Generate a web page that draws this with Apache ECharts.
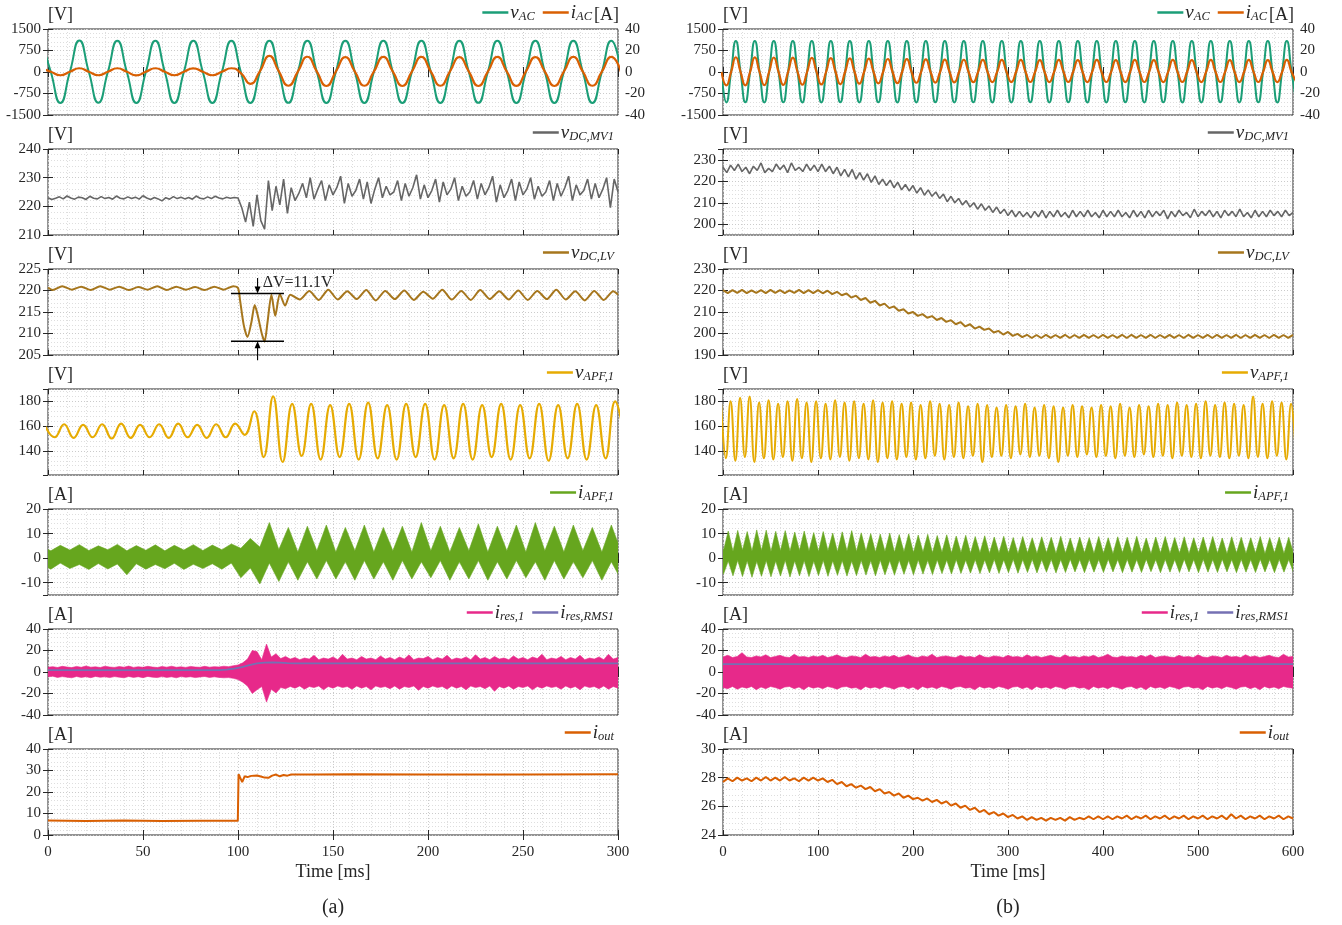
<!DOCTYPE html>
<html><head><meta charset="utf-8">
<script src="https://cdn.jsdelivr.net/npm/echarts@6/dist/echarts.min.js"></script>
<style>html,body{margin:0;padding:0;background:#fff}#c{width:1342px;height:925px}</style>
</head><body><div id="c"></div>
<script>
// ======================= DATA =======================
// ---------- (a) 0–300 ms ----------
// v_AC, i_AC sampled every 5 ms starting at -3.5 ms (peaks / zero crossings / troughs)
const vAC_a_t0 = -3.5, vAC_a_dt = 5;
const vAC_a = [
 1090,0,-1080,0, 1095,0,-1075,0, 1090,0,-1082,0, 1088,0,-1080,0, 1092,0,-1078,0,
 1090,0,-1080,0, 1094,0,-1076,0, 1090,0,-1082,0, 1088,0,-1080,0, 1092,0,-1078,0,
 1090,0,-1080,0, 1094,0,-1076,0, 1090,0,-1082,0, 1088,0,-1080,0, 1092,0,-1078,0,
 1090,0];
const iAC_a = [
 3.4,0.2,-3.0,0.2, 3.5,0.2,-3.0,0.2, 3.5,0.2,-3.1,0.2, 3.5,0.2,-3.0,0.2, 3.4,0.2,-3.0,0.2,
 3.5,-1.0,-11.0,0.5, 15.0,0.5,-12.8,0.3, 14.2,0.3,-13.0,0.3, 13.8,0.3,-12.8,0.3, 14.0,0.3,-13.0,0.3,
 14.0,0.3,-12.8,0.3, 13.8,0.3,-13.0,0.3, 14.0,0.3,-12.9,0.3, 13.9,0.3,-13.0,0.3, 14.0,0.3,-12.8,0.3,
 14.0,0.3];
// v_DC,MV1 every 2 ms from 0
const vDCMV1_a_dt = 2;
const vDCMV1_a = [
 223.0,222.4,222.8,223.3,222.6,223.6,222.9,222.5,223.2,223.0,
 222.4,223.5,222.8,222.6,223.4,222.7,223.1,222.5,223.6,222.8,
 222.6,223.3,222.7,223.2,222.5,223.7,222.9,222.4,223.1,222.6,
 221.9,223.0,222.5,223.4,222.7,223.2,222.6,223.1,222.5,223.6,
 222.8,222.6,223.3,222.7,223.5,222.9,222.6,223.2,222.8,223.1,
 222.9,219.5,214.5,221.5,213.0,224.0,215.0,212.0,229.0,218.5,
 227.0,220.5,229.5,217.5,226.5,222.0,224.5,228.0,223.0,230.0,
 222.5,226.0,229.0,222.0,227.5,224.0,226.5,230.5,221.0,228.0,
 223.5,225.5,229.5,222.5,228.5,221.0,226.0,230.0,223.0,227.0,
 224.0,225.0,229.0,222.0,228.0,223.5,226.5,231.0,222.5,227.5,
 223.0,225.5,229.5,221.5,228.5,224.0,226.0,230.0,222.0,227.0,
 223.5,225.0,229.0,222.5,228.0,224.0,226.5,230.5,221.5,227.5,
 223.0,225.5,229.5,222.0,228.5,224.0,226.0,230.0,222.5,227.0,
 223.5,225.0,229.0,222.0,228.0,223.5,226.5,230.5,222.0,227.5,
 224.0,225.5,229.5,222.5,228.0,223.0,226.0,230.0,219.5,229.5,
 225.0];
// v_DC,LV as [time ms, volts]
const vDCLV_a = [
 [0,220.7],[2.5,220.1],[7.5,221.0],[12.5,220.2],[17.5,220.9],[22.5,220.1],[27.5,221.0],[32.5,220.2],[37.5,220.9],[42.5,220.1],
 [47.5,220.8],[52.5,220.2],[57.5,221.0],[62.5,220.1],[67.5,220.9],[72.5,220.2],[77.5,220.8],[82.5,220.1],[87.5,220.9],[92.5,220.2],
 [97.5,221.0],[100,220.6],[101,218.0],[103,212.0],[105,209.2],[107,212.5],[108.8,216.6],[110.5,214.0],[112.5,210.0],[114,208.1],
 [115.5,212.5],[117.6,219.0],[119.6,214.1],[122,219.2],[124.8,216.5],[127.5,219.0],[132.5,217.9],[137.5,219.9],[142.5,217.8],[147.5,220.2],
 [152.5,217.9],[157.5,219.8],[162.5,218.0],[167.5,220.1],[172.5,217.7],[177.5,219.9],[182.5,218.0],[187.5,220.0],[192.5,217.8],[197.5,219.7],
 [202.5,218.1],[207.5,220.2],[212.5,217.9],[217.5,219.9],[222.5,217.8],[227.5,220.1],[232.5,218.0],[237.5,219.8],[242.5,217.9],[247.5,220.0],
 [252.5,217.8],[257.5,219.9],[262.5,218.0],[267.5,220.2],[272.5,217.9],[277.5,219.8],[282.5,217.7],[287.5,219.9],[292.5,217.8],[297.5,219.8],
 [300,219.0]];
// annotation on v_DC,LV
const dV_label = 'ΔV=11.1V';
const dV_levels = [219.3, 208.2];      // upper / lower marker lines [V]
const dV_span = [96.3, 124.2];         // marker line extent [ms]
const dV_arrowT = 110.3;               // arrow time [ms]
const dV_arrowEnds = [222.9, 203.8];   // arrow tails [V]
const dV_textAt = [113, 221.7];
// v_APF,1 peaks/troughs every 5 ms from -1.5 ms
const vAPF_a_t0 = -1.5, vAPF_a_dt = 5;
const vAPF_a = [
 160,151,161.5,150.5,161,151,161.5,150,162,150.5,
 161,151,161.5,150.5,162,151,161,150.5,161.5,151,
 162,153,172,135,184,131,178,136,178,133,
 177,135,178,133,179,134,177,133,178,135,
 178,133,177,134,178,133,177,135,178,133,
 177,134,178,132,177,134,178,133,177,134,
 180,150];
// i_APF,1 band (upper / lower envelope), every 5 ms from -3.5 ms
const iAPF_a_t0 = -3.5, iAPF_a_dt = 5;
const iAPF_a_hi = [
 4.8,3.0,5.2,3.3,5.5,3.1,5.0,3.4,5.6,3.0,
 5.1,3.2,5.4,3.0,5.2,3.3,5.5,3.1,5.3,3.4,
 5.8,4.0,8.0,4.5,14.5,3.5,12.5,2.5,13.0,3.0,
 13.5,2.5,12.5,3.0,13.5,2.5,12.5,3.0,13.0,2.5,
 14.5,3.0,13.0,2.5,12.5,3.0,14.0,2.5,13.0,3.0,
 13.5,2.5,14.5,3.0,13.0,2.5,13.5,3.0,12.5,2.5,
 13.5,3.0];
const iAPF_a_lo = [
 -2.5,-4.5,-2.0,-4.2,-2.6,-4.6,-2.2,-4.4,-2.4,-6.8,
 -2.3,-4.5,-2.6,-4.3,-2.1,-4.6,-2.5,-4.2,-2.3,-4.5,
 -2.0,-8.0,-4.0,-10.5,-2.0,-9.5,-1.5,-9.0,-1.5,-8.5,
 -1.0,-8.5,-1.5,-9.0,-1.0,-8.5,-1.5,-9.0,-1.0,-8.5,
 -1.5,-8.0,-1.0,-9.0,-1.5,-8.5,-1.0,-9.0,-1.5,-8.5,
 -1.0,-8.0,-1.5,-9.0,-1.0,-8.5,-1.5,-8.0,-1.0,-9.0,
 -1.5,-8.5];
// i_res,1 band every 2.5 ms from 0
const ires_a_dt = 2.5;
const ires_a_hi = [
 4.5,5.0,4.2,5.3,4.6,4.1,5.2,4.4,5.6,4.5,
 4.8,4.2,5.4,4.6,4.3,5.1,4.5,5.5,4.3,4.9,
 4.4,5.3,4.6,4.2,5.1,4.5,5.4,4.4,4.8,4.3,
 5.2,4.6,4.4,5.3,4.5,5.0,4.7,5.4,5.0,5.8,
 6.5,8.5,12.0,20.0,19.0,11.5,26.0,14.0,17.0,12.5,
 14.5,12.0,13.5,11.5,13.0,12.0,15.5,11.5,13.0,12.0,
 14.0,11.5,16.5,12.0,13.0,11.5,14.5,12.0,13.0,11.5,
 15.0,12.0,13.5,11.5,14.0,12.0,16.0,11.5,13.0,12.5,
 14.5,11.5,13.5,12.0,15.5,11.5,13.0,12.0,14.0,11.5,
 16.0,12.0,13.5,11.5,14.5,12.0,13.0,11.5,15.0,12.0,
 13.5,11.5,14.0,12.5,16.5,11.5,13.0,12.0,14.5,11.5,
 13.5,12.0,15.5,11.5,13.0,12.0,14.0,11.5,16.5,12.0,
 13.5];
const ires_a_lo = [
 -4.5,-3.9,-5.1,-4.3,-4.8,-5.4,-4.2,-5.0,-4.4,-5.3,
 -4.1,-4.9,-4.5,-5.2,-4.3,-4.8,-5.4,-4.2,-5.0,-4.4,
 -5.3,-4.1,-4.8,-5.2,-4.3,-5.0,-4.5,-5.4,-4.2,-4.9,
 -4.4,-5.2,-4.6,-4.2,-5.1,-4.5,-5.0,-5.4,-5.2,-5.9,
 -7.0,-9.5,-13.0,-20.0,-16.5,-13.5,-28.0,-16.0,-19.5,-14.5,
 -15.5,-13.5,-15.0,-13.0,-16.0,-13.5,-14.5,-13.0,-16.5,-13.5,
 -15.0,-13.0,-14.5,-13.5,-16.0,-13.0,-15.0,-13.5,-16.5,-13.0,
 -14.5,-13.5,-15.5,-13.0,-16.0,-13.5,-14.5,-13.0,-17.0,-13.5,
 -15.0,-13.0,-14.5,-13.5,-16.0,-13.0,-15.0,-13.5,-16.5,-13.0,
 -14.5,-13.5,-15.5,-13.0,-18.0,-13.5,-15.0,-13.0,-16.0,-13.5,
 -14.5,-13.0,-16.5,-13.5,-15.0,-13.0,-14.5,-13.5,-16.0,-13.0,
 -15.0,-13.5,-16.5,-13.0,-14.5,-13.5,-15.5,-13.0,-16.0,-13.5,
 -15.0];
const iresRMS_a = [[0,1.7],[90,1.7],[94,2.2],[98,3.2],[102,4.6],[106,6.4],[110,8.0],[114,8.8],[118,9.0],[122,8.8],[126,8.3],[130,8.0],[300,8.0]];
const iout_a = [[0,6.7],[20,6.5],[40,6.7],[60,6.5],[80,6.6],[99.9,6.6],[100.3,28.3],[101.2,27.6],[102.2,24.6],[103.5,27.3],
 [105,26.9],[107,27.5],[110,27.7],[112,27.2],[114,26.7],[116,26.6],[118,27.6],[120,28.1],[122,27.3],[124,27.9],
 [126,27.6],[128,28.1],[140,28.1],[160,28.2],[200,28.1],[250,28.1],[300,28.2]];

// ---------- (b) 0–600 ms ----------
const vAC_b_t0 = -1.5, vAC_b_dt = 5;
const vAC_b = [
 0,-1060,0,1080, 0,-1055,0,1085, 0,-1060,0,1080, 0,-1058,0,1082, 0,-1062,0,1078,
 0,-1060,0,1080, 0,-1055,0,1085, 0,-1060,0,1080, 0,-1058,0,1082, 0,-1062,0,1078,
 0,-1060,0,1080, 0,-1055,0,1085, 0,-1060,0,1080, 0,-1058,0,1082, 0,-1062,0,1078,
 0,-1060,0,1080, 0,-1055,0,1085, 0,-1060,0,1080, 0,-1058,0,1082, 0,-1062,0,1078,
 0,-1060,0,1080, 0,-1055,0,1085, 0,-1060,0,1080, 0,-1058,0,1082, 0,-1062,0,1078,
 0,-1060,0,1080, 0,-1055,0,1085, 0,-1060,0,1080, 0,-1058,0,1082, 0,-1062,0,1078,
 0,-1060];
const iAC_b = [
 0,-12.5,0,13.7, 0,-12.4,0,13.6, 0,-12.2,0,13.5, 0,-12.0,0,13.3, 0,-11.8,0,13.1,
 0,-11.5,0,12.9, 0,-11.2,0,12.7, 0,-10.9,0,12.4, 0,-10.6,0,12.1, 0,-10.3,0,11.9,
 0,-10.0,0,11.7, 0,-9.8,0,11.5, 0,-9.6,0,11.4, 0,-9.5,0,11.3, 0,-9.4,0,11.2,
 0,-9.4,0,11.2, 0,-9.3,0,11.1, 0,-9.4,0,11.2, 0,-9.3,0,11.1, 0,-9.4,0,11.2,
 0,-9.3,0,11.1, 0,-9.4,0,11.2, 0,-9.3,0,11.1, 0,-9.4,0,11.2, 0,-9.3,0,11.1,
 0,-9.4,0,11.2, 0,-9.3,0,11.1, 0,-9.4,0,11.2, 0,-9.3,0,11.1, 0,-9.4,0,11.2,
 0,-9.3];
const vDCMV1_b_dt = 4;
const vDCMV1_b = [
 226.5,224.0,227.5,225.0,228.0,224.5,226.5,223.5,227.0,225.0,
 228.5,224.0,226.0,224.5,228.0,225.5,227.5,224.0,228.5,225.0,
 226.5,224.5,228.0,225.0,227.5,224.5,228.0,224.5,227.0,223.5,
 226.5,222.5,225.5,222.0,225.5,221.0,224.0,220.5,223.5,219.5,
 222.5,218.5,221.0,218.0,220.5,217.0,219.5,216.0,218.5,215.5,
 218.0,214.5,217.0,213.5,216.0,213.0,215.0,212.0,214.0,210.5,
 213.0,210.0,212.0,209.0,211.0,208.0,210.0,207.0,209.5,206.5,
 208.5,205.5,208.0,205.0,207.0,204.0,206.5,203.5,206.0,203.5,
 205.5,203.0,206.0,203.5,206.5,203.0,206.0,203.5,206.5,203.5,
 205.5,203.0,206.5,203.5,206.0,203.5,206.5,203.5,205.5,203.0,
 206.5,203.5,206.0,203.5,206.5,203.5,205.5,203.0,206.5,203.5,
 206.0,203.0,206.5,203.5,206.0,204.0,206.5,202.5,206.0,203.5,
 206.5,204.0,205.5,203.0,207.0,203.5,206.0,204.0,206.5,203.5,
 206.0,203.0,206.5,204.0,206.0,203.5,207.0,203.5,205.5,203.0,
 206.5,203.5,206.0,203.5,206.5,204.0,206.0,203.5,206.5,204.0,
 205.5];
const vDCLV_b_dt = 5;
const vDCLV_b = [
 220.2,218.8,220.2,218.9,220.3,218.8,220.1,218.9,220.2,218.8,
 220.3,218.9,220.2,218.8,220.1,218.9,220.3,218.8,220.2,218.8,
 220.2,218.7,219.9,218.3,219.4,217.8,218.6,216.7,217.6,215.6,
 216.5,214.3,215.2,213.0,213.9,211.8,212.6,210.6,211.3,209.3,
 210.0,208.2,209.0,207.3,208.1,206.3,207.2,205.4,206.2,204.3,
 205.3,203.3,204.3,202.3,203.2,201.7,202.3,200.5,201.2,199.5,
 200.7,198.9,199.8,198.3,199.4,197.9,199.3,197.9,199.4,198.0,
 199.3,198.0,199.4,197.9,199.3,198.0,199.4,198.0,199.3,197.9,
 199.4,198.0,199.3,198.0,199.4,197.9,199.4,198.0,199.3,198.0,
 199.4,197.9,199.3,198.0,199.4,198.0,199.3,197.9,199.4,198.0,
 199.3,198.0,199.4,197.9,199.4,198.0,199.3,198.0,199.4,197.9,
 199.3,198.0,199.4,198.0,199.3,197.9,199.4,198.0,199.3,198.0,
 199.4];
const vAPF_b_t0 = -2, vAPF_b_dt = 5;
const vAPF_b = [
 178,134, 180,132, 183,135, 184,131, 179,134,
 181,133, 178,135, 180,132, 182,134, 179,131,
 180,134, 178,133, 181,135, 179,132, 180,134,
 178,133, 181,131, 179,134, 180,133, 178,135,
 179,133, 177,134, 180,136, 178,133, 177,135,
 179,134, 176,136, 178,131, 177,135, 175,136,
 177,134, 176,137, 178,135, 175,136, 177,134,
 176,131, 175,136, 177,135, 176,137, 175,135,
 177,136, 176,134, 178,136, 175,135, 177,137,
 176,135, 178,136, 177,134, 179,136, 177,135,
 178,134, 180,136, 177,135, 179,134, 178,136,
 177,134, 184,135, 178,134, 180,136, 179,133,
 178,137];
const iAPF_b_t0 = -4.5, iAPF_b_dt = 5;
const iAPF_b_hi = [
 10.5,3.0, 11.0,2.8, 11.3,3.2, 10.8,2.9, 11.5,3.1,
 11.4,2.7, 10.9,3.0, 11.2,2.8, 10.6,3.1, 11.0,2.9,
 10.4,2.7, 10.8,3.0, 10.2,2.6, 10.7,2.9, 11.2,2.7,
 10.3,2.8, 10.0,2.5, 9.8,2.7, 10.2,2.4, 9.6,2.6,
 9.9,2.3, 9.4,2.5, 9.7,2.2, 9.2,2.4, 9.5,2.1,
 9.0,2.3, 9.3,2.0, 8.8,2.2, 9.1,1.9, 8.6,2.1,
 8.9,2.0, 8.4,1.8, 8.8,2.1, 8.3,1.9, 8.7,2.2,
 8.5,1.9, 8.9,2.0, 8.2,1.8, 8.6,2.1, 8.4,1.9,
 8.8,2.0, 8.3,1.8, 8.7,2.2, 8.5,1.9, 8.9,2.0,
 8.2,1.8, 8.6,2.1, 8.8,1.9, 8.4,2.0, 8.7,1.8,
 8.3,2.1, 8.6,1.9, 8.8,2.0, 8.2,1.8, 8.7,2.1,
 8.5,1.9, 8.3,2.0, 8.8,1.8, 8.4,2.1, 8.6,1.9,
 8.5,2.0];
const iAPF_b_lo = [
 -1.0,-6.5, -1.2,-7.2, -0.9,-7.5, -1.1,-7.8, -1.3,-7.4,
 -1.0,-7.6, -1.2,-7.3, -0.9,-7.7, -1.1,-7.2, -1.0,-7.5,
 -1.2,-7.1, -0.9,-7.4, -1.1,-7.0, -1.0,-7.3, -1.2,-7.1,
 -0.9,-6.9, -1.0,-7.2, -0.8,-6.8, -1.0,-6.9, -0.8,-6.6,
 -0.9,-6.8, -0.7,-6.5, -0.9,-6.7, -0.7,-6.3, -0.8,-6.5,
 -0.6,-6.2, -0.8,-6.1, -0.6,-6.3, -0.7,-6.0, -0.5,-6.2,
 -0.7,-5.9, -0.5,-6.1, -0.6,-5.8, -0.5,-6.0, -0.6,-5.7,
 -0.5,-6.0, -0.6,-5.8, -0.4,-5.6, -0.6,-5.9, -0.5,-5.7,
 -0.6,-5.8, -0.4,-5.6, -0.6,-5.9, -0.5,-5.7, -0.6,-5.8,
 -0.4,-5.5, -0.6,-5.9, -0.5,-5.7, -0.6,-5.8, -0.4,-5.6,
 -0.6,-5.9, -0.5,-5.7, -0.6,-5.8, -0.4,-5.6, -0.6,-5.9,
 -0.5,-5.7, -0.6,-5.8, -0.4,-5.6, -0.6,-5.9, -0.5,-5.7,
 -0.6,-5.8];
const ires_b_dt = 5;
const ires_b_hi = [
 14.0,15.5,13.5,14.5,18.0,14.0,13.5,15.0,14.0,16.0,
 13.5,14.5,15.5,14.0,13.5,16.5,14.0,14.5,13.5,15.0,
 14.0,15.5,13.5,14.5,16.0,14.0,13.5,15.0,14.5,13.5,
 16.5,14.0,14.5,13.5,15.0,14.0,15.5,13.5,14.5,16.0,
 14.0,13.5,15.0,14.0,16.5,13.5,14.5,15.0,14.0,13.5,
 15.5,14.0,14.5,13.5,16.0,14.0,13.5,15.0,14.5,13.5,
 15.5,14.0,14.5,13.5,16.0,14.0,15.0,13.5,14.5,15.5,
 14.0,13.5,16.0,14.0,14.5,13.5,15.0,14.0,15.5,13.5,
 14.5,16.5,14.0,13.5,15.0,14.0,14.5,13.5,15.5,14.0,
 16.0,13.5,14.5,15.0,14.0,13.5,15.5,14.0,14.5,13.5,
 16.0,14.0,13.5,15.0,14.5,13.5,15.5,14.0,14.5,13.5,
 16.0,14.0,15.0,13.5,14.5,15.5,14.0,13.5,16.5,14.0,
 14.5];
const ires_b_lo = [
 -14.5,-15.5,-13.5,-16.0,-14.0,-15.0,-13.5,-16.5,-14.0,-15.5,
 -13.5,-14.5,-16.0,-14.0,-13.5,-15.5,-14.0,-16.5,-13.5,-15.0,
 -14.0,-15.5,-13.5,-14.5,-16.0,-14.0,-13.5,-15.0,-14.5,-16.5,
 -13.5,-15.0,-14.0,-15.5,-13.5,-14.5,-16.0,-14.0,-13.5,-15.5,
 -14.0,-16.5,-13.5,-15.0,-14.0,-15.5,-13.5,-14.5,-16.0,-14.0,
 -13.5,-15.0,-14.5,-16.5,-13.5,-15.0,-14.0,-15.5,-13.5,-14.5,
 -16.0,-14.0,-13.5,-15.5,-14.0,-16.5,-13.5,-15.0,-14.0,-15.5,
 -13.5,-14.5,-16.0,-14.0,-13.5,-15.0,-14.5,-16.5,-13.5,-15.0,
 -14.0,-15.5,-13.5,-14.5,-16.0,-14.0,-13.5,-15.5,-14.0,-16.5,
 -13.5,-15.0,-14.0,-15.5,-13.5,-14.5,-16.0,-14.0,-13.5,-15.0,
 -14.5,-16.5,-13.5,-15.0,-14.0,-15.5,-13.5,-14.5,-16.0,-14.0,
 -13.5,-15.5,-14.0,-16.5,-13.5,-15.0,-14.0,-15.5,-13.5,-14.5,
 -15.0];
const iresRMS_b = [[0,7.3],[600,7.3]];
const iout_b_dt = 5;
const iout_b = [
 27.7,27.95,27.75,28.0,27.8,27.95,27.75,28.0,27.8,28.05,
 27.8,28.0,27.8,28.05,27.8,27.95,27.75,28.0,27.8,28.0,
 27.8,27.95,27.7,27.85,27.55,27.7,27.4,27.55,27.3,27.45,
 27.2,27.35,27.05,27.2,26.9,27.0,26.75,26.9,26.6,26.75,
 26.5,26.6,26.4,26.55,26.3,26.45,26.2,26.35,26.05,26.2,
 25.9,26.05,25.75,25.9,25.6,25.75,25.45,25.6,25.35,25.5,
 25.25,25.4,25.15,25.3,25.05,25.25,25.05,25.2,25.0,25.2,
 25.05,25.2,25.0,25.25,25.05,25.2,25.1,25.3,25.1,25.3,
 25.1,25.3,25.1,25.3,25.15,25.35,25.1,25.3,25.15,25.35,
 25.1,25.3,25.15,25.35,25.1,25.3,25.15,25.35,25.1,25.3,
 25.15,25.35,25.1,25.3,25.15,25.35,25.1,25.45,25.15,25.35,
 25.1,25.3,25.15,25.35,25.1,25.3,25.15,25.35,25.1,25.3,
 25.15];

// axis ranges per row: [left col, right col] as [min, max, major step]
const Y_RANGES = [
 [[-1500,1500,750],[-1500,1500,750]],
 [[210,240,10],[195,235,10]],
 [[205,225,5],[190,230,10]],
 [[120.5,190,20],[120.5,190,20]],
 [[-15,20,10],[-15,20,10]],
 [[-40,40,20],[-40,40,20]],
 [[0,40,10],[24,30,2]]];
const Y2_RANGE_ROW1 = [-40,40,20];
const X_RANGES = [[0,300,50],[0,600,100]];
const UNITS = ['[V]','[V]','[V]','[V]','[A]','[A]','[A]'];
const LABELS = {
 vAC:'{i|v}{s|AC}', iAC:'{i|i}{s|AC}', vDCMV1:'{i|v}{s|DC,MV1}', vDCLV:'{i|v}{s|DC,LV}',
 vAPF:'{i|v}{s|APF,1}', iAPF:'{i|i}{s|APF,1}', ires:'{i|i}{s|res,1}', iresRMS:'{i|i}{s|res,RMS1}', iout:'{i|i}{s|out}'};

// ======================= CHART =======================
const FONT = '"Liberation Serif","Times New Roman","DejaVu Serif",serif';
const INK = '#262626';
const COL = {vAC:'#1b9e77', iAC:'#d95f02', vDCMV1:'#666666', vDCLV:'#a6761d', vAPF:'#e6ab02', iAPF:'#66a61e', ires:'#e7298a', iresRMS:'#7570b3', iout:'#d95f02'};
const GRID_LEFT = [48, 723], GRID_TOP0 = 29, GRID_PITCH = 120, GRID_W = 570, GRID_H = 86;

const tgrid = (t0, dt, vals) => vals.map((v, i) => [Math.round((t0 + i * dt) * 1000) / 1000, v]);
const isMul = (v, s) => Math.abs(v / s - Math.round(v / s)) < 1e-9;

const grids = [], xAxes = [], yAxes = [], legends = [], series = [];
const tick = () => ({show: true, inside: true, length: 5, lineStyle: {color: INK, width: 1}});
const lblStyle = {fontFamily: FONT, fontSize: 15, color: INK};
const SPLIT = {show: true, lineStyle: {color: '#cbcbcb', type: [1, 2], width: 1}};
const MINOR = {show: true, lineStyle: {color: '#dedede', type: [1, 2], width: 1}};

function yAx(g, rng, opts) {
  const [mn, mx, st] = rng;
  const o = {type: 'value', gridIndex: g, min: mn, max: mx, position: opts.pos, scale: true,
    axisLine: {show: false}, axisTick: tick(),
    axisLabel: Object.assign({show: !!opts.labels, margin: 7, formatter: v => String(v),
      showMinLabel: isMul(mn, st), showMaxLabel: isMul(mx, st)}, lblStyle),
    splitLine: opts.split ? SPLIT : {show: false},
    minorTick: {show: false, splitNumber: 5},
    minorSplitLine: opts.split ? MINOR : {show: false}};
  if (isMul(mn, st)) o.interval = st; else { o.minInterval = st; o.maxInterval = st; o.splitNumber = Math.round((mx - mn) / st); }
  if (opts.name) { o.name = opts.name; o.nameLocation = 'end'; o.nameGap = 5;
    o.nameTextStyle = {fontFamily: FONT, fontSize: 18, color: INK, align: 'left', verticalAlign: 'bottom'}; }
  return o;
}
function xAx(g, rng, opts) {
  const [mn, mx, st] = rng;
  const o = {type: 'value', gridIndex: g, min: mn, max: mx, interval: st, position: opts.pos,
    axisLine: {show: false}, axisTick: tick(),
    axisLabel: Object.assign({show: !!opts.labels, margin: 10, formatter: v => String(v)}, lblStyle),
    splitLine: opts.split ? SPLIT : {show: false},
    minorTick: {show: false, splitNumber: 5},
    minorSplitLine: opts.split ? MINOR : {show: false}};
  if (opts.labels) { o.name = 'Time [ms]'; o.nameLocation = 'middle'; o.nameGap = 28;
    o.nameTextStyle = {fontFamily: FONT, fontSize: 18, color: INK}; }
  return o;
}

for (let r = 0; r < 7; r++) for (let c = 0; c < 2; c++) {
  const g = r * 2 + c, top = GRID_TOP0 + r * GRID_PITCH;
  grids.push({left: GRID_LEFT[c], top, width: GRID_W, height: GRID_H, show: true, borderColor: INK, borderWidth: 1, backgroundColor: 'transparent'});
  xAxes.push(xAx(g, X_RANGES[c], {pos: 'bottom', split: true, labels: r === 6}));
  xAxes.push(xAx(g, X_RANGES[c], {pos: 'top'}));
  yAxes.push(yAx(g, Y_RANGES[r][c], {pos: 'left', split: true, labels: true, name: UNITS[r]}));
  if (r === 0) yAxes.push(yAx(g, Y2_RANGE_ROW1, {pos: 'right', labels: true}));
  else yAxes.push(yAx(g, Y_RANGES[r][c], {pos: 'right'}));
}

function line(name, key, g, data, o = {}) {
  const color = COL[key];
  series.push({name, type: 'line', xAxisIndex: g * 2, yAxisIndex: g * 2 + (o.right ? 1 : 0), data,
    symbol: 'none', showSymbol: false, color, itemStyle: {color}, lineStyle: {color, width: o.width || 1.8},
    smooth: o.smooth || false, silent: true, z: o.z || 3, animation: false});
}
// filled envelope drawn as one polygon through the axis scales (api.coord)
function band(name, key, g, lo, hi) {
  const color = COL[key], n = Math.min(lo.length, hi.length);
  const top = hi.slice(0, n), bot = lo.slice(0, n).reverse();
  series.push({name, type: 'custom', xAxisIndex: g * 2, yAxisIndex: g * 2, color, itemStyle: {color},
    data: [top[0]], silent: true, z: 2, animation: false,
    renderItem: (params, api) => {
      const cs = params.coordSys;
      const pts = top.map(p => api.coord(p)).concat(bot.map(p => api.coord(p)));
      return {type: 'polygon', shape: {points: pts}, style: {fill: color, stroke: color, lineWidth: 0.6},
        clipPath: {type: 'rect', shape: {x: cs.x, y: cs.y, width: cs.width, height: cs.height}}};
    }});
}
function legend(g, names, keys, rightPx) {
  const r = Math.floor(g / 2);
  legends.push({show: true, top: GRID_TOP0 + r * GRID_PITCH - 26, right: rightPx, orient: 'horizontal', padding: 0,
    data: names, icon: 'rect', itemWidth: 26, itemHeight: 2.5, itemGap: 8, selectedMode: false,
    formatter: n => LABELS[keys[names.indexOf(n)]],
    textStyle: {color: INK, fontFamily: FONT, fontSize: 17, padding: [0, 0, 0, -3], rich: {
      i: {fontStyle: 'italic', fontFamily: FONT, fontSize: 19, color: INK, lineHeight: 22, verticalAlign: 'middle'},
      s: {fontStyle: 'italic', fontFamily: FONT, fontSize: 12.5, color: INK, lineHeight: 13, verticalAlign: 'bottom'}}}});
}

// (a)
line('vAC_a', 'vAC', 0, tgrid(vAC_a_t0, vAC_a_dt, vAC_a), {smooth: 0.55, width: 2});
line('iAC_a', 'iAC', 0, tgrid(vAC_a_t0, vAC_a_dt, iAC_a), {smooth: 0.55, width: 2.2, right: true, z: 4});
line('vDCMV1_a', 'vDCMV1', 2, tgrid(0, vDCMV1_a_dt, vDCMV1_a), {width: 1.6});
line('vDCLV_a', 'vDCLV', 4, vDCLV_a, {smooth: 0.25, width: 2});
line('vAPF_a', 'vAPF', 6, tgrid(vAPF_a_t0, vAPF_a_dt, vAPF_a), {smooth: 0.45, width: 2.2});
band('iAPF_a', 'iAPF', 8, tgrid(iAPF_a_t0, iAPF_a_dt, iAPF_a_lo), tgrid(iAPF_a_t0, iAPF_a_dt, iAPF_a_hi));
band('ires_a', 'ires', 10, tgrid(0, ires_a_dt, ires_a_lo), tgrid(0, ires_a_dt, ires_a_hi));
line('iresRMS_a', 'iresRMS', 10, iresRMS_a, {width: 1.8, z: 5});
line('iout_a', 'iout', 12, iout_a, {width: 2});
// (b)
line('vAC_b', 'vAC', 1, tgrid(vAC_b_t0, vAC_b_dt, vAC_b), {smooth: 0.55, width: 2});
line('iAC_b', 'iAC', 1, tgrid(vAC_b_t0, vAC_b_dt, iAC_b), {smooth: 0.55, width: 2.2, right: true, z: 4});
line('vDCMV1_b', 'vDCMV1', 3, tgrid(0, vDCMV1_b_dt, vDCMV1_b), {width: 1.6});
line('vDCLV_b', 'vDCLV', 5, tgrid(0, vDCLV_b_dt, vDCLV_b), {width: 2});
line('vAPF_b', 'vAPF', 7, tgrid(vAPF_b_t0, vAPF_b_dt, vAPF_b), {smooth: 0.45, width: 2});
band('iAPF_b', 'iAPF', 9, tgrid(iAPF_b_t0, iAPF_b_dt, iAPF_b_lo), tgrid(iAPF_b_t0, iAPF_b_dt, iAPF_b_hi));
band('ires_b', 'ires', 11, tgrid(0, ires_b_dt, ires_b_lo), tgrid(0, ires_b_dt, ires_b_hi));
line('iresRMS_b', 'iresRMS', 11, iresRMS_b, {width: 1.8, z: 5});
line('iout_b', 'iout', 13, tgrid(0, iout_b_dt, iout_b), {width: 2});

// legends
const RL = 1342 - 614, RR = 1342 - 1289;
legend(0, ['vAC_a', 'iAC_a'], ['vAC', 'iAC'], 1342 - 592);
legend(1, ['vAC_b', 'iAC_b'], ['vAC', 'iAC'], 1342 - 1267);
legend(2, ['vDCMV1_a'], ['vDCMV1'], RL); legend(3, ['vDCMV1_b'], ['vDCMV1'], RR);
legend(4, ['vDCLV_a'], ['vDCLV'], RL); legend(5, ['vDCLV_b'], ['vDCLV'], RR);
legend(6, ['vAPF_a'], ['vAPF'], RL); legend(7, ['vAPF_b'], ['vAPF'], RR);
legend(8, ['iAPF_a'], ['iAPF'], RL); legend(9, ['iAPF_b'], ['iAPF'], RR);
legend(10, ['ires_a', 'iresRMS_a'], ['ires', 'iresRMS'], RL); legend(11, ['ires_b', 'iresRMS_b'], ['ires', 'iresRMS'], RR);
legend(12, ['iout_a'], ['iout'], RL); legend(13, ['iout_b'], ['iout'], RR);

const txt = (x, y, text, size, align) => ({type: 'text', x, y, z: 10,
  style: {text, fontFamily: FONT, fontSize: size, fill: INK, align, verticalAlign: 'middle'}});
const staticGraphic = [
  txt((GRID_LEFT[0] * 2 + GRID_W) / 2, 908, '(a)', 20, 'center'),
  txt((GRID_LEFT[1] * 2 + GRID_W) / 2, 908, '(b)', 20, 'center'),
  txt(GRID_LEFT[0] + GRID_W + 1, GRID_TOP0 - 14, '[A]', 18, 'right'),
  txt(GRID_LEFT[1] + GRID_W + 1, GRID_TOP0 - 14, '[A]', 18, 'right')];

const chart = echarts.init(document.getElementById('c'), null, {renderer: 'canvas', width: 1342, height: 925});
chart.setOption({animation: false, backgroundColor: '#ffffff', grid: grids, xAxis: xAxes, yAxis: yAxes, legend: legends, series});

// ΔV annotation on v_DC,LV (a), positioned through the axis scales
const P = pt => chart.convertToPixel({xAxisIndex: 8, yAxisIndex: 8}, pt);
const ann = [];
dV_levels.forEach(lv => { const a = P([dV_span[0], lv]), b = P([dV_span[1], lv]);
  ann.push({type: 'line', shape: {x1: a[0], y1: a[1], x2: b[0], y2: b[1]}, style: {stroke: '#000', lineWidth: 1.3}, z: 10}); });
[[dV_arrowEnds[0], dV_levels[0]], [dV_arrowEnds[1], dV_levels[1]]].forEach(([from, to]) => {
  const a = P([dV_arrowT, from]), b = P([dV_arrowT, to]); const dir = Math.sign(b[1] - a[1]);
  ann.push({type: 'line', shape: {x1: a[0], y1: a[1], x2: b[0], y2: b[1] - dir * 5}, style: {stroke: '#000', lineWidth: 1.1}, z: 10});
  ann.push({type: 'polygon', shape: {points: [[b[0], b[1]], [b[0] - 3, b[1] - dir * 7], [b[0] + 3, b[1] - dir * 7]]}, style: {fill: '#000'}, z: 10});
});
const tp = P(dV_textAt);
ann.push(txt(tp[0], tp[1], dV_label, 16, 'left'));
chart.setOption({graphic: staticGraphic.concat(ann)});
</script></body></html>
